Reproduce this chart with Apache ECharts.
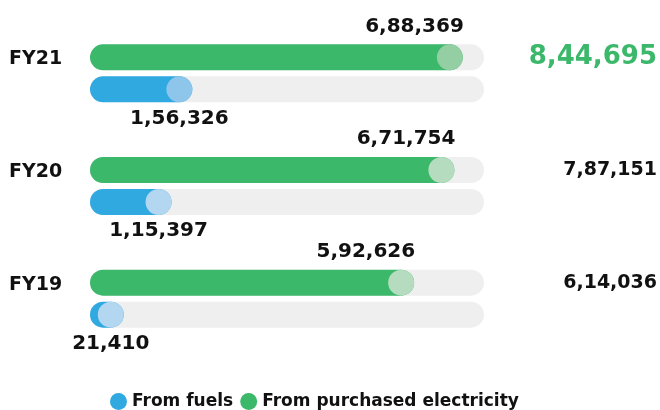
<!DOCTYPE html>
<html>
<head>
<meta charset="utf-8">
<script src="https://cdn.jsdelivr.net/npm/echarts@6/dist/echarts.min.js"></script>
<style>
  html, body { margin: 0; padding: 0; background: #fff; }
  #chart { width: 660px; height: 410px; }
</style>
</head>
<body>
<div id="chart"></div>
<script>
const categories = ["FY21", "FY20", "FY19"];
const fuels = [156326, 115397, 21410];
const electricity = [688369, 671754, 592626];
const totals = [844695, 787151, 614036];
const legendNames = ["From fuels", "From purchased electricity"];

const FONT = "DejaVu Sans";
const GREEN = "#3cb86b";
const BLUE = "#30a9e1";

// indian grouping: 6,88,369
function fmtIN(n) {
  const s = String(n);
  if (s.length <= 3) return s;
  const last3 = s.slice(-3);
  const rest = s.slice(0, -3);
  return rest.replace(/\B(?=(\d{2})+(?!\d))/g, ",") + "," + last3;
}

const chart = echarts.init(document.getElementById("chart"), null, { renderer: "canvas" });

const axisMin = -45000;

chart.setOption({
  animation: false,
  backgroundColor: "#fff",
  textStyle: { fontFamily: FONT },
  grid: { left: 90, right: 176, top: 17, bottom: 55 },
  legend: {
    data: legendNames,
    left: 105,
    top: 388,
    icon: "circle",
    itemWidth: 17,
    itemHeight: 17,
    itemGap: 7,
    textStyle: { fontFamily: FONT, fontSize: 17, fontWeight: "bold", color: "#111" },
  },
  xAxis: {
    type: "value",
    min: axisMin,
    max: 730000,
    startValue: axisMin,
    show: false,
  },
  yAxis: [
    {
      type: "category",
      inverse: true,
      data: categories,
      axisLine: { show: false },
      axisTick: { show: false },
      splitLine: { show: false },
      axisLabel: {
        align: "left",
        margin: 81,
        padding: [0, 0, 28, 0],
        formatter: (value) => "{cat|" + value + "}",
        rich: {
          cat: { fontFamily: FONT, fontSize: 19, fontWeight: "bold", color: "#111" },
        },
      },
    },
    {
      type: "category",
      inverse: true,
      position: "right",
      data: categories,
      axisLine: { show: false },
      axisTick: { show: false },
      splitLine: { show: false },
      axisLabel: {
        align: "right",
        margin: 173,
        padding: [0, 0, 32, 0],
        formatter: function (value, index) {
          return index === 0 ? "{big|" + fmtIN(totals[index]) + "}" : "{norm|" + fmtIN(totals[index]) + "}";
        },
        rich: {
          big: { fontFamily: FONT, fontSize: 26, fontWeight: "bold", color: GREEN },
          norm: { fontFamily: FONT, fontSize: 19, fontWeight: "bold", color: "#111" },
        },
      },
    },
  ],
  series: [
    {
      name: legendNames[1],
      type: "bar",
      barWidth: 26,
      barGap: "23%",
      data: electricity,
      itemStyle: { color: GREEN, borderRadius: 13 },
      showBackground: true,
      backgroundStyle: { color: "#efefef", borderRadius: 13 },
      z: 2,
    },
    {
      name: legendNames[0],
      type: "bar",
      barWidth: 26,
      barGap: "23%",
      data: fuels,
      itemStyle: { color: BLUE, borderRadius: 13 },
      showBackground: true,
      backgroundStyle: { color: "#efefef", borderRadius: 13 },
      z: 2,
    },
    {
      name: "electricity-end",
      type: "scatter",
      data: electricity.map((v, i) => [v, categories[i]]),
      symbol: "circle",
      symbolSize: 26,
      symbolOffset: [-13, -16],
      itemStyle: {
        opacity: 1,
        color: (p) => (p.dataIndex === 0 ? "#94cfa3" : "#b5dcbf"),
      },
      label: {
        show: true,
        position: "top",
        align: "right",
        offset: [14, 0],
        distance: 8,
        formatter: (p) => fmtIN(p.value[0]),
        fontFamily: FONT,
        fontSize: 20,
        fontWeight: "bold",
        color: "#111",
      },
      z: 3,
    },
    {
      name: "fuels-end",
      type: "scatter",
      data: fuels.map((v, i) => [v, categories[i]]),
      symbol: "circle",
      symbolSize: 26,
      symbolOffset: [-13, 16],
      itemStyle: {
        opacity: 1,
        color: (p) => (p.dataIndex === 0 ? "#8ec6eb" : "#b3d7f0"),
      },
      label: {
        show: true,
        position: "bottom",
        distance: 6,
        formatter: (p) => fmtIN(p.value[0]),
        fontFamily: FONT,
        fontSize: 20,
        fontWeight: "bold",
        color: "#111",
      },
      z: 3,
    },
  ],
});
</script>
</body>
</html>
